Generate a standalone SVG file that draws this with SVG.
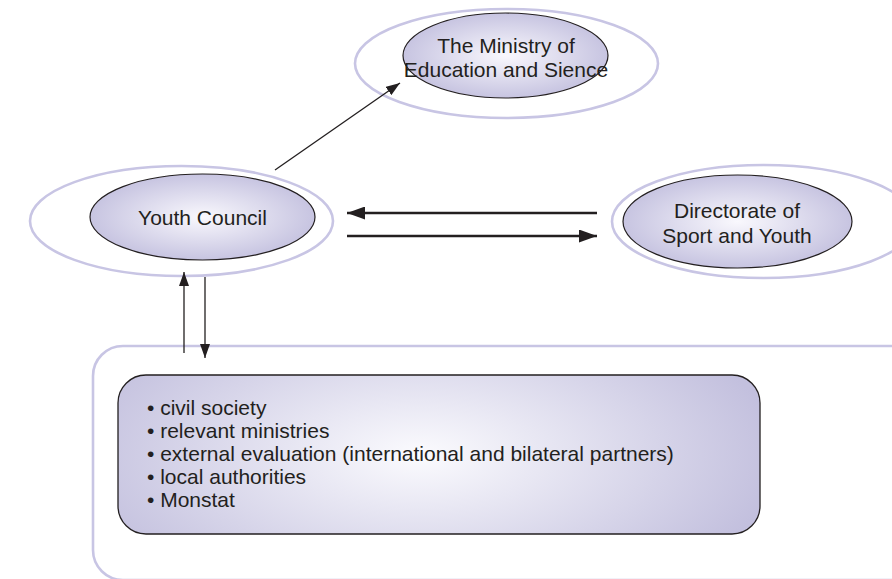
<svg xmlns="http://www.w3.org/2000/svg" width="892" height="579" viewBox="0 0 892 579">
<defs>
<radialGradient id="gEll" cx="50%" cy="50%" r="55%">
<stop offset="0" stop-color="#f9f8fd"/>
<stop offset="1" stop-color="#c2bfde"/>
</radialGradient>
<radialGradient id="gBox" gradientUnits="userSpaceOnUse" cx="420" cy="455" r="360" gradientTransform="translate(420 455) scale(1 0.45) translate(-420 -455)">
<stop offset="0" stop-color="#fbfbfe"/>
<stop offset="1" stop-color="#c3c0de"/>
</radialGradient>
<marker id="headBig" markerUnits="userSpaceOnUse" markerWidth="18" markerHeight="13" refX="18" refY="6.5" orient="auto">
<path d="M0,0 L18,6.5 L0,13 z" fill="#231f20"/>
</marker>
<marker id="headSmall" markerUnits="userSpaceOnUse" markerWidth="14" markerHeight="10" refX="14" refY="5" orient="auto">
<path d="M0,0 L14,5 L0,10 z" fill="#231f20"/>
</marker>
</defs>
<style>
.halo{fill:none;stroke:#c8c5e4;stroke-width:2.6}
.core{fill:url(#gEll);stroke:#231f20;stroke-width:1.2}
.lbl{font-family:"Liberation Sans",Arial,Helvetica,sans-serif;font-size:21px;fill:#231f20}
.mid{text-anchor:middle}
.thin{fill:none;stroke:#231f20;stroke-width:1.3}
.thick{fill:none;stroke:#231f20;stroke-width:2.4}
</style>
<rect width="892" height="579" fill="#ffffff"/>

<g id="ministry">
<ellipse class="halo" cx="506.5" cy="63.5" rx="151.5" ry="54.5"/>
<ellipse class="core" cx="505.5" cy="55.5" rx="102.5" ry="42.5"/>
<text class="lbl mid" x="506" y="53">The Ministry of</text>
<text class="lbl mid" x="506" y="77">Education and Sience</text>
</g>

<g id="youth-council">
<ellipse class="halo" cx="181.5" cy="221" rx="151.5" ry="55"/>
<ellipse class="core" cx="202.5" cy="217" rx="112.5" ry="43"/>
<text class="lbl mid" x="202.5" y="225">Youth Council</text>
</g>

<g id="directorate">
<ellipse class="halo" cx="763.5" cy="221.5" rx="151.5" ry="56.5"/>
<ellipse class="core" cx="737.5" cy="221.5" rx="114.5" ry="46.5"/>
<text class="lbl mid" x="737" y="218">Directorate of</text>
<text class="lbl mid" x="737" y="243">Sport and Youth</text>
</g>

<g id="stakeholders">
<rect class="halo" x="93" y="346" width="830" height="234" rx="30" ry="30"/>
<rect x="118" y="375" width="642" height="159" rx="28" ry="28" fill="url(#gBox)" stroke="#231f20" stroke-width="1.3"/>
<text class="lbl" x="147" y="415">• civil society</text>
<text class="lbl" x="147" y="438">• relevant ministries</text>
<text class="lbl" x="147" y="461">• external evaluation (international and bilateral partners)</text>
<text class="lbl" x="147" y="484">• local authorities</text>
<text class="lbl" x="147" y="507">• Monstat</text>
</g>

<g id="connectors">
<line class="thin" x1="275" y1="170" x2="400" y2="83" marker-end="url(#headSmall)"/>
<line class="thick" x1="597" y1="213" x2="347" y2="213" marker-end="url(#headBig)"/>
<line class="thick" x1="347" y1="236" x2="597" y2="236" marker-end="url(#headBig)"/>
<line class="thin" x1="184" y1="353" x2="184" y2="272" marker-end="url(#headSmall)"/>
<line class="thin" x1="205" y1="277" x2="205" y2="358" marker-end="url(#headSmall)"/>
</g>
</svg>
